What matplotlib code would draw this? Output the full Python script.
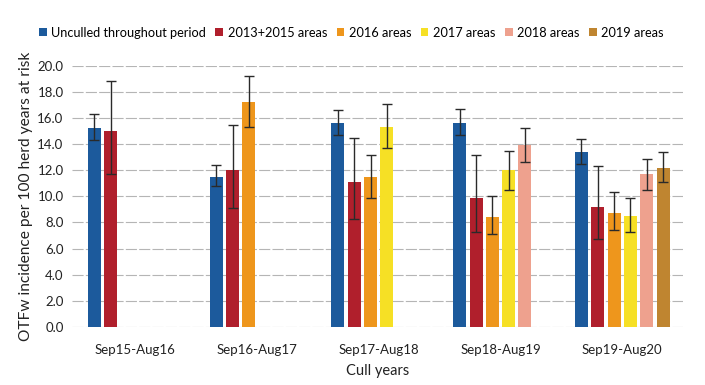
import matplotlib
matplotlib.use("Agg")
import matplotlib.pyplot as plt
import numpy as np

plt.rcParams['font.family'] = ['Lato', 'DejaVu Sans']

periods = ["Sep15-Aug16", "Sep16-Aug17", "Sep17-Aug18", "Sep18-Aug19", "Sep19-Aug20"]
series = ["Unculled throughout period", "2013+2015 areas", "2016 areas",
          "2017 areas", "2018 areas", "2019 areas"]
colors = ["#1c5a9c", "#b01f2c", "#ee961c", "#f6e025", "#eea18e", "#bf8530"]

# values per series (None where not present), with lower/upper CI
values = [
    [15.2, 11.5, 15.6, 15.6, 13.4],
    [15.0, 12.0, 11.1, 9.9, 9.2],
    [None, 17.2, 11.5, 8.4, 8.7],
    [None, None, 15.3, 12.0, 8.5],
    [None, None, None, 13.9, 11.7],
    [None, None, None, None, 12.2],
]
lower = [
    [14.3, 10.8, 14.7, 14.7, 12.5],
    [11.7, 9.1, 8.3, 7.3, 6.7],
    [None, 15.3, 9.9, 7.1, 7.4],
    [None, None, 13.7, 10.5, 7.3],
    [None, None, None, 12.6, 10.5],
    [None, None, None, None, 11.1],
]
upper = [
    [16.3, 12.4, 16.6, 16.7, 14.4],
    [18.8, 15.5, 14.5, 13.2, 12.3],
    [None, 19.2, 13.2, 10.0, 10.3],
    [None, None, 17.1, 13.5, 9.9],
    [None, None, None, 15.2, 12.9],
    [None, None, None, None, 13.4],
]

fig = plt.figure(figsize=(7.05, 3.85), dpi=100)
ax = fig.add_axes([0.102, 0.151, 0.867, 0.678])

slot = 0.134
bw = 0.107
x = np.arange(len(periods))
for j, name in enumerate(series):
    xs, hs, lo, hi = [], [], [], []
    for i in range(len(periods)):
        v = values[j][i]
        if v is None:
            continue
        xs.append(x[i] + (j - 2.5) * slot)
        hs.append(v)
        lo.append(v - lower[j][i])
        hi.append(upper[j][i] - v)
    ax.bar(xs, hs, width=bw, color=colors[j], label=name, zorder=2)
    ax.errorbar(xs, hs, yerr=[lo, hi], fmt='none', ecolor='#2a2a2a',
                elinewidth=1.0, capsize=3.5, capthick=1.0, zorder=3)

ax.set_xlim(-0.52, 4.5)
ax.set_ylim(0, 20)
ax.set_yticks(np.arange(0, 20.1, 2))
ax.set_yticklabels([f"{v:.1f}" for v in np.arange(0, 20.1, 2)], fontsize=9.5, color='#222222')
ax.set_xticks(x)
ax.set_xticklabels(periods, fontsize=9.5, color='#222222')
ax.tick_params(axis='both', length=0)
ax.tick_params(axis='x', pad=12)
ax.tick_params(axis='y', pad=6)
for s in ax.spines.values():
    s.set_visible(False)
ax.grid(axis='y', color='#b5b5b5', linewidth=0.8, linestyle=(0, (10, 2)), zorder=0)
ax.set_axisbelow(True)

ax.set_ylabel("OTFw incidence per 100 herd years at risk", fontsize=11.2, color='#222222', labelpad=3)
ax.set_xlabel("Cull years", fontsize=10.5, color='#222222', labelpad=6)

ax.legend(loc='center', bbox_to_anchor=(0.457, 1.126), ncol=6, frameon=False,
          fontsize=9.2, handlelength=0.6, handleheight=0.6, handletextpad=0.35,
          columnspacing=0.75, borderaxespad=0, borderpad=0)

fig.savefig("out.png", dpi=100)
